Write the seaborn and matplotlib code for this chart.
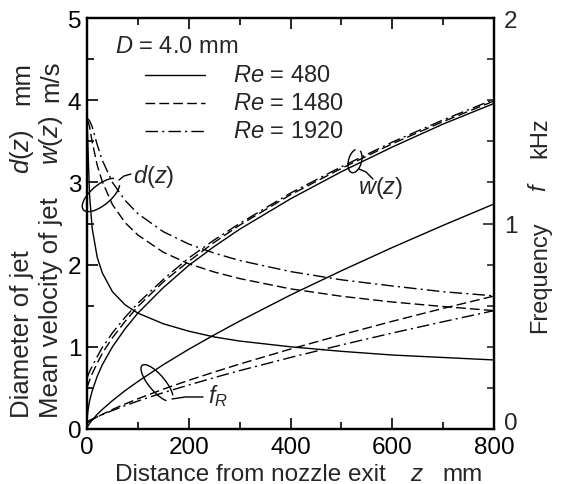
import matplotlib
matplotlib.use('Agg')
import matplotlib.pyplot as plt
import seaborn as sns
from matplotlib.patches import Arc
from matplotlib.lines import Line2D
from matplotlib.ticker import MultipleLocator, FuncFormatter
from matplotlib.transforms import IdentityTransform

# distance from nozzle exit z (mm)
z = [0, 2, 5, 10, 20, 30, 50, 75, 100, 150, 200, 250, 300, 400, 500, 600, 700, 800]

# mean velocity of jet w(z) (m/s)
w_480 = [0.12, 0.23, 0.34, 0.46, 0.64, 0.78, 1.00, 1.22, 1.41, 1.72, 1.99, 2.22, 2.43, 2.80, 3.13, 3.43, 3.71, 3.96]
w_1480 = [0.50, 0.54, 0.59, 0.67, 0.80, 0.92, 1.11, 1.31, 1.49, 1.79, 2.04, 2.27, 2.48, 2.85, 3.17, 3.47, 3.74, 3.99]
w_1920 = [0.62, 0.65, 0.70, 0.76, 0.88, 0.99, 1.17, 1.36, 1.53, 1.82, 2.08, 2.30, 2.50, 2.87, 3.19, 3.49, 3.76, 4.01]

# diameter of jet d(z) (mm)
d_480 = [3.80, 3.40, 2.85, 2.45, 2.09, 1.90, 1.67, 1.51, 1.41, 1.28, 1.19, 1.12, 1.07, 1.00, 0.945, 0.90, 0.87, 0.84]
d_1480 = [3.75, 3.74, 3.68, 3.50, 3.21, 3.01, 2.73, 2.51, 2.36, 2.15, 2.01, 1.91, 1.83, 1.705, 1.615, 1.545, 1.49, 1.44]
d_1920 = [3.78, 3.77, 3.75, 3.68, 3.46, 3.27, 3.00, 2.78, 2.62, 2.40, 2.25, 2.14, 2.05, 1.915, 1.815, 1.74, 1.67, 1.62]

# frequency f_R (kHz)
f_480 = [0.010, 0.015, 0.027, 0.043, 0.071, 0.095, 0.138, 0.187, 0.231, 0.313, 0.388, 0.458, 0.525, 0.652, 0.770, 0.883, 0.991, 1.095]
f_1480 = [0.029, 0.032, 0.037, 0.044, 0.058, 0.071, 0.095, 0.122, 0.147, 0.194, 0.237, 0.277, 0.316, 0.389, 0.458, 0.524, 0.587, 0.647]
f_1920 = [0.035, 0.038, 0.042, 0.048, 0.059, 0.070, 0.090, 0.114, 0.136, 0.177, 0.214, 0.250, 0.284, 0.348, 0.409, 0.467, 0.522, 0.576]

re_labels = ['480', '1480', '1920']

sns.set_style('ticks')
plt.rcParams['font.family'] = ['Liberation Sans', 'DejaVu Sans']
plt.rcParams['mathtext.fontset'] = 'custom'
plt.rcParams['mathtext.rm'] = 'Liberation Sans'
plt.rcParams['mathtext.it'] = 'Liberation Sans:italic'

FS = 17
TICK_FS = 17.5
W, H = 561, 485
fig = plt.figure(figsize=(W / 100, H / 100), dpi=100)
ax = fig.add_axes([87 / W, 1 - 430 / H, 407 / W, 411 / H])
ax2 = ax.twinx()

styles = ['-', (0, (7, 3)), (0, (9, 3, 1.5, 3))]
lw = 1.0
for w, d, f, st in zip([w_480, w_1480, w_1920], [d_480, d_1480, d_1920], [f_480, f_1480, f_1920], styles):
    sns.lineplot(x=z, y=w, ax=ax, color='k', lw=lw, linestyle=st)
    sns.lineplot(x=z, y=d, ax=ax, color='k', lw=lw, linestyle=st)
    sns.lineplot(x=z, y=f, ax=ax2, color='k', lw=lw, linestyle=st)

ax.set_xlim(0, 800)
ax.set_ylim(0, 5)
ax2.set_ylim(0, 2)
ax.xaxis.set_major_locator(MultipleLocator(200))
ax.xaxis.set_minor_locator(MultipleLocator(100))
ax.yaxis.set_major_locator(MultipleLocator(1))
ax.yaxis.set_minor_locator(MultipleLocator(0.5))
ax2.yaxis.set_major_locator(MultipleLocator(1))
ax2.yaxis.set_minor_locator(MultipleLocator(0.2))
# the right-hand "0" is drawn separately, a little higher
ax2.yaxis.set_major_formatter(FuncFormatter(lambda v, p: '' if v == 0 else f'{v:g}'))

ax.tick_params(which='both', direction='in', top=True, right=False, width=1.2, colors='k')
ax.tick_params(which='major', length=8, labelsize=TICK_FS)
ax.tick_params(which='minor', length=5)
ax.tick_params(axis='x', pad=5)
ax.tick_params(axis='y', pad=4)
ax2.tick_params(which='both', direction='in', width=1.2)
ax2.tick_params(which='major', length=8, labelsize=TICK_FS, pad=7)
ax2.tick_params(which='minor', length=5)
for a in (ax, ax2):
    a.set_xlabel('')
    a.set_ylabel('')
    for s in a.spines.values():
        s.set_linewidth(1.6)
        s.set_color('k')
        s.set_visible(True)


def T(x, y, s, fs=FS, **kw):
    fig.text(x / W, 1 - y / H, s, fontsize=fs, **kw)


def L(xs, ys, **kw):
    fig.add_artist(Line2D(xs, [H - y for y in ys], transform=IdentityTransform(), color='k', lw=1.0, **kw))


T(504, 424, '0', fs=TICK_FS, ha='left', va='center')

# legend block
T(115, 47, r'$D$ = 4.0 mm', va='center')
for i, (lab, st) in enumerate(zip(re_labels, styles)):
    y = 76 + i * 28
    L([145, 205], [y, y], linestyle=st)
    T(233, y, r'$Re$ = ' + lab, va='center')

# axis labels
YL = 18.5
T(22, 418, 'Diameter of jet', fs=YL, rotation=90, ha='center', va='bottom')
T(22, 152, r'$d(z)$', fs=YL, rotation=90, ha='center', va='center')
T(22, 62, 'mm', fs=YL, rotation=90, ha='center', va='top')
T(51, 418, 'Mean velocity of jet', fs=YL, rotation=90, ha='center', va='bottom')
T(51, 140, r'$w(z)$', fs=YL, rotation=90, ha='center', va='center')
T(51, 60, 'm/s', fs=YL, rotation=90, ha='center', va='top')
T(540, 333, 'Frequency', rotation=90, ha='center', va='bottom')
T(540, 187, r'$f$', rotation=90, ha='center', va='center')
T(540, 117, 'kHz', rotation=90, ha='center', va='top')
T(115, 481, 'Distance from nozzle exit', fs=17.5, ha='left', va='baseline')
T(417, 481, r'$z$', fs=17.5, ha='center', va='baseline')
T(442, 481, 'mm', fs=17.5, ha='left', va='baseline')

# curve annotations
T(133, 177, r'$d(z)$', va='center')
T(358, 188, r'$w(z)$', va='center')
T(208, 396, r'$f_R$', va='center')
for cx, cy, ew, eh, ang in [(101, 196, 46, 20, 40), (157, 384, 46, 16, -50), (355, 162, 24, 13, 75)]:
    fig.add_artist(Arc((cx, H - cy), ew, eh, angle=ang, theta1=12, theta2=348,
                       transform=IdentityTransform(), color='k', lw=1.0))
L([119, 124, 131], [181, 177, 175])
L([172, 185, 203], [400, 398, 398])
L([359, 366, 373], [170, 173, 180])

fig.savefig('out.png', dpi=100)
